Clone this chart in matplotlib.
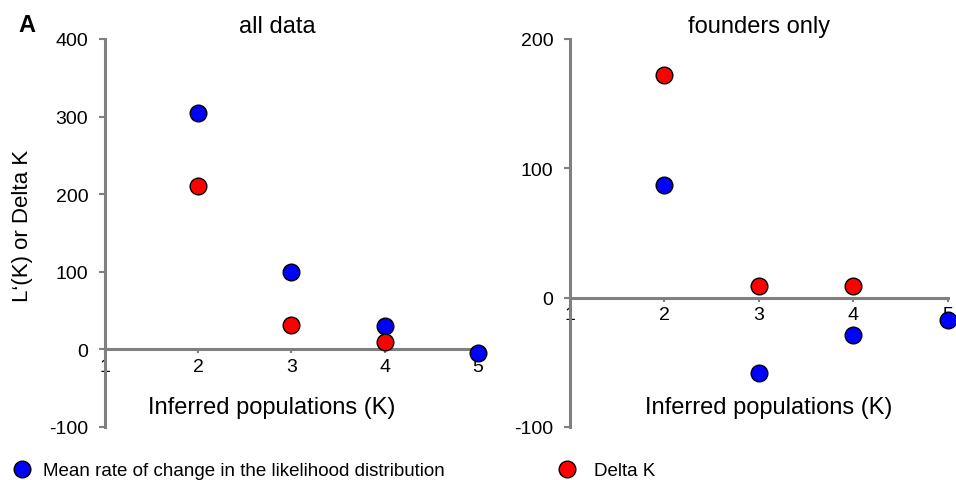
import matplotlib
matplotlib.use("Agg")
import matplotlib.pyplot as plt
from matplotlib.lines import Line2D

plt.rcParams['font.family'] = ['Liberation Sans', 'DejaVu Sans']
plt.rcParams['axes.unicode_minus'] = False

k_values = [2, 3, 4, 5]
k_delta = [2, 3, 4]

all_rate = [305, 100, 30, -5]
all_delta = [210, 32, 10]

founders_rate = [87, -58, -29, -17]
founders_delta = [172, 9, 9]

x_ticks = [1, 2, 3, 4, 5]
all_yticks = [-100, 0, 100, 200, 300, 400]
founders_yticks = [-100, 0, 100, 200]

gray = '#808080'
blue = '#0000ff'
red = '#ff0000'
msize = 12


def style_axis(ax, yticks, xlabel_x):
    ax.set_xlim(1, 5)
    ax.set_ylim(yticks[0], yticks[-1])
    ax.set_xticks(x_ticks)
    ax.set_yticks(yticks)
    ax.spines['top'].set_visible(False)
    ax.spines['right'].set_visible(False)
    ax.spines['left'].set_position(('data', 1))
    ax.spines['bottom'].set_position(('data', 0))
    for s in ('left', 'bottom'):
        ax.spines[s].set_color(gray)
        ax.spines[s].set_linewidth(2.2)
    ax.tick_params(axis='y', direction='out', length=4, width=1.5, color=gray,
                   labelsize=14, pad=8)
    ax.tick_params(axis='x', direction='out', length=3, width=1.5, color=gray,
                   labelsize=14, pad=3)
    ax.set_xlabel('Inferred populations (K)', fontsize=17)
    ax.xaxis.set_label_coords(xlabel_x, 0.052)
    ax.xaxis.label.set_va('center')


fig = plt.figure(figsize=(9.56, 4.81), dpi=100)
ax1 = fig.add_axes([0.1098, 0.1102, 0.390, 0.8067])
ax2 = fig.add_axes([0.5962, 0.1102, 0.3954, 0.8067])

for ax, rate, delta, yt, title, lx, tx in [
        (ax1, all_rate, all_delta, all_yticks, 'all data', 0.448, 0.461),
        (ax2, founders_rate, founders_delta, founders_yticks, 'founders only', 0.527, 0.5)]:
    ax.plot(k_values, rate, 'o', color=blue, markeredgecolor='black',
            markeredgewidth=1, markersize=msize, clip_on=False, zorder=3)
    ax.plot(k_delta, delta, 'o', color=red, markeredgecolor='black',
            markeredgewidth=1, markersize=msize, clip_on=False, zorder=3)
    style_axis(ax, yt, lx)
    ax.set_title(title, fontsize=17, pad=5, x=tx)

ax1.set_ylabel('L‘(K) or Delta K', fontsize=16)
ax1.yaxis.set_label_coords(-0.222, 0.52)
ax1.yaxis.label.set_va('center')
fig.text(0.019, 0.946, 'A', fontsize=17, fontweight='bold', va='center')

blue_handle = Line2D([], [], marker='o', linestyle='none', color=blue,
                     markeredgecolor='black', markersize=msize)
red_handle = Line2D([], [], marker='o', linestyle='none', color=red,
                    markeredgecolor='black', markersize=msize)
leg_kw = dict(loc='center left', frameon=False, fontsize=13.5, borderpad=0,
              borderaxespad=0, handlelength=1.0)
fig.legend([blue_handle], ['Mean rate of change in the likelihood distribution'],
           bbox_to_anchor=(0.0135, 0.019), handletextpad=0.62, **leg_kw)
fig.legend([red_handle], ['Delta K'], bbox_to_anchor=(0.5832, 0.019),
           handletextpad=0.97, **leg_kw)

fig.savefig('out.png', dpi=100)
